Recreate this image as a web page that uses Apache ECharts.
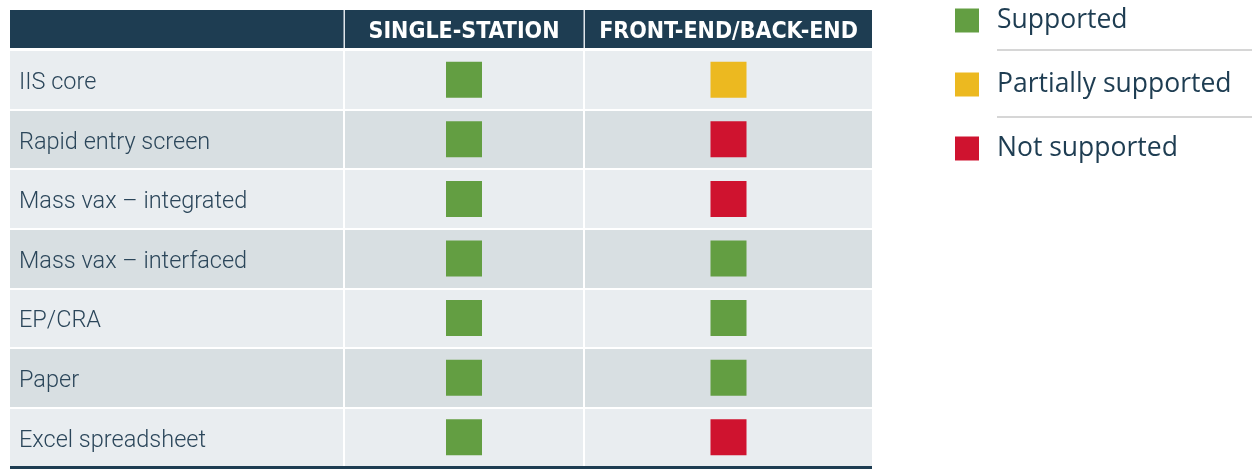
<!DOCTYPE html>
<html>
<head>
<meta charset="utf-8">
<script src="https://cdn.jsdelivr.net/npm/echarts@6/dist/echarts.min.js"></script>
<style>
  html, body { margin: 0; padding: 0; background: #fff; }
  #chart { width: 1252px; height: 469px; }
</style>
</head>
<body>
<div id="chart"></div>
<script>
// capability matrix data
const rowLabels = ['IIS core', 'Rapid entry screen', 'Mass vax \u2013 integrated', 'Mass vax \u2013 interfaced', 'EP/CRA', 'Paper', 'Excel spreadsheet'];
const columnNames = ['SINGLE-STATION', 'FRONT-END/BACK-END'];
const statusNames = ['Supported', 'Partially supported', 'Not supported'];
// 0 = supported, 1 = partial, 2 = not supported
const singleStation = [0, 0, 0, 0, 0, 0, 0];
const frontBackEnd = [1, 2, 2, 0, 0, 0, 2];

const statusColors = ['#639e42', '#ecb920', '#cf132f'];
const navy = '#1e3d52';
const headerFont = '"Liberation Sans Narrow", "DejaVu Sans Condensed", sans-serif';

const chart = echarts.init(document.getElementById('chart'));

const columns = [singleStation, frontBackEnd];
const grids = [
    { left: 10, top: 50, width: 333, bottom: 2 },
    { left: 345, top: 50, width: 238, bottom: 2 },
    { left: 585, top: 50, width: 287, bottom: 2 }
];

function rowAxis(i) {
    return {
        type: 'category',
        gridIndex: i,
        data: rowLabels,
        inverse: true,
        axisLine: { show: false },
        axisTick: { show: false },
        axisLabel: {
            show: i === 0,
            inside: true,
            margin: 9,
            formatter: function(v) { return '{r|' + v + '}'; },
            rich: {
                r: {
                    color: '#2b465a',
                    fontFamily: 'Roboto, sans-serif',
                    fontWeight: 300,
                    fontSize: 23.5,
                    padding: [7, 0, 0, 0]
                }
            }
        },
        splitArea: { show: true, areaStyle: { color: ['#e9edf0', '#d8dfe2'] } },
        splitLine: { show: true, lineStyle: { color: '#ffffff', width: 2 } }
    };
}

function colAxis(i) {
    return {
        type: 'category',
        gridIndex: i,
        position: 'top',
        data: i === 0 ? [''] : [columnNames[i - 1]],
        axisLine: { show: false },
        axisTick: { show: false },
        splitLine: { show: false },
        axisLabel: {
            margin: 6,
            color: '#ffffff',
            fontFamily: headerFont,
            fontWeight: 'bold',
            fontSize: 23
        }
    };
}

// one scatter series per column and status
const series = [];
columns.forEach(function(values, c) {
    statusNames.forEach(function(name, s) {
        const data = [];
        values.forEach(function(v, r) {
            if (v === s) data.push([columnNames[c], rowLabels[r]]);
        });
        series.push({
            name: name,
            type: 'scatter',
            xAxisIndex: c + 1,
            yAxisIndex: c + 1,
            symbol: 'rect',
            symbolSize: 36,
            itemStyle: { color: statusColors[s], opacity: 1 },
            data: data,
            z: 5
        });
    });
});

const option = {
    animation: false,
    grid: grids,
    xAxis: [colAxis(0), colAxis(1), colAxis(2)],
    yAxis: [rowAxis(0), rowAxis(1), rowAxis(2)],
    legend: {
        orient: 'vertical',
        left: 955,
        top: 7,
        padding: 0,
        icon: 'rect',
        itemWidth: 24,
        itemHeight: 24,
        itemGap: 37,
        selectedMode: false,
        data: statusNames,
        textStyle: {
            color: navy,
            fontFamily: '"Open Sans", sans-serif',
            fontSize: 26.5,
            lineHeight: 24,
            padding: [0, 0, 0, 13]
        }
    },
    graphic: [
        { type: 'rect', shape: { x: 10, y: 10, width: 862, height: 38 }, style: { fill: navy }, z: -1 },
        { type: 'rect', shape: { x: 343.5, y: 10, width: 1.5, height: 38 }, style: { fill: '#dfe5ea' }, z: -1 },
        { type: 'rect', shape: { x: 583.5, y: 10, width: 1.5, height: 38 }, style: { fill: '#dfe5ea' }, z: -1 },
        { type: 'rect', shape: { x: 10, y: 466, width: 862, height: 3 }, style: { fill: navy }, z: 10 },
        { type: 'rect', shape: { x: 997, y: 49, width: 255, height: 2 }, style: { fill: '#d6d6d6' } },
        { type: 'rect', shape: { x: 997, y: 116, width: 255, height: 2 }, style: { fill: '#d6d6d6' } }
    ],
    series: series
};

chart.setOption(option);
window.addEventListener('resize', () => chart.resize());
</script>
</body>
</html>
